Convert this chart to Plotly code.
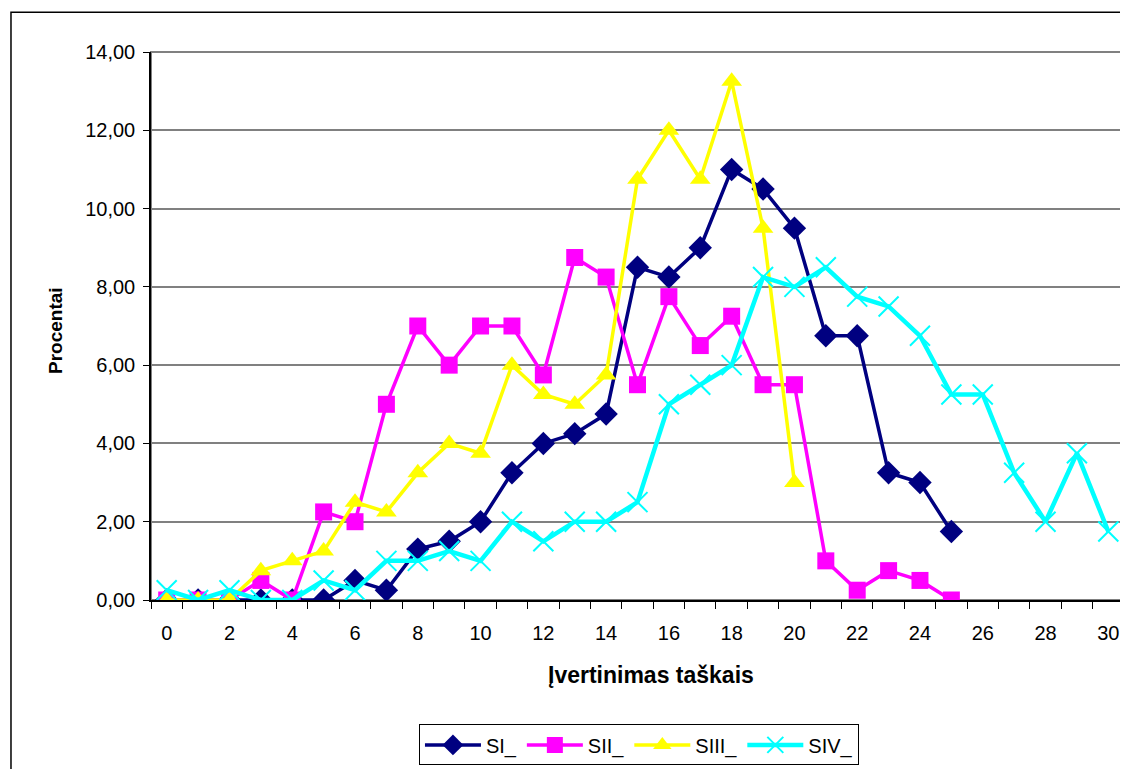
import plotly.graph_objects as go

x_points = list(range(0, 31))

si_values = [0, 0, 0, 0, 0, 0, 0.5, 0.25, 1.3, 1.5, 2.0, 3.25, 4.0, 4.25, 4.75,
             8.5, 8.25, 9.0, 11.0, 10.5, 9.5, 6.75, 6.75, 3.25, 3.0, 1.75]
sii_values = [0, 0, 0, 0.5, 0, 2.25, 2.0, 5.0, 7.0, 6.0, 7.0, 7.0, 5.75, 8.75, 8.25,
              5.5, 7.75, 6.5, 7.25, 5.5, 5.5, 1.0, 0.25, 0.75, 0.5, 0]
siii_values = [0, 0, 0, 0.75, 1.0, 1.25, 2.5, 2.25, 3.25, 4.0, 3.75, 6.0, 5.25, 5.0, 5.75,
               10.75, 12.0, 10.75, 13.25, 9.5, 3.0]
siv_values = [0.25, 0, 0.25, 0, 0, 0.5, 0.25, 1.0, 1.0, 1.25, 1.0, 2.0, 1.5, 2.0, 2.0,
              2.5, 5.0, 5.5, 6.0, 8.25, 8.0, 8.5, 7.75, 7.5, 6.75, 5.25, 5.25, 3.25, 2.0, 3.75, 1.75]

series_names = ["SI_", "SII_", "SIII_", "SIV_"]
series_colors = ["#000080", "#FF00FF", "#FFFF00", "#00FFFF"]
series_symbols = ["diamond", "square", "triangle-up", "x-thin"]
series_sizes = [18, 17, 18, 20]
series_widths = [3.5, 3.5, 3.5, 4.5]
series_values = [si_values, sii_values, siii_values, siv_values]

x_ticks = list(range(0, 31, 2))
y_ticks = list(range(0, 15, 2))

fig = go.Figure()
for name, color, sym, size, lw, vals in zip(series_names, series_colors, series_symbols,
                                            series_sizes, series_widths, series_values):
    marker = dict(symbol=sym, size=size, color=color)
    if sym == "x-thin":
        marker["line"] = dict(color=color, width=2)
    fig.add_trace(go.Scatter(
        x=x_points[:len(vals)], y=vals, name=name, mode="lines+markers",
        line=dict(color=color, width=lw), marker=marker,
    ))

font_family = "Liberation Sans, Arial, sans-serif"

fig.update_layout(
    width=1120, height=761,
    margin=dict(l=143, r=4, t=44, b=167),
    paper_bgcolor="white", plot_bgcolor="white",
    separators=",.",
    font=dict(family=font_family, size=20, color="black"),
    showlegend=True,
    legend=dict(
        orientation="h", x=0.5015, xanchor="center", y=-0.227, yanchor="top",
        bordercolor="#000000", borderwidth=1, bgcolor="white",
        font=dict(size=20, family=font_family), itemwidth=56,
        tracegroupgap=0,
    ),
    xaxis=dict(
        range=[-0.5, 30.5], tickvals=x_ticks, ticktext=[str(v) for v in x_ticks],
        ticks="", showgrid=False, zeroline=False,
        showline=True, linecolor="black", linewidth=1.5, mirror=False,
        tickfont=dict(size=20), ticklabelstandoff=14,
        minor=dict(tick0=0.5, dtick=1, ticks="outside", ticklen=7,
                   tickcolor="black", tickwidth=1, showgrid=False),
    ),
    yaxis=dict(
        range=[0, 14], tickvals=y_ticks, tickformat=".2f",
        ticks="outside", ticklen=6, tickcolor="black",
        showgrid=True, gridcolor="#808080", gridwidth=2, zeroline=False,
        showline=True, linecolor="black", linewidth=1.5,
        tickfont=dict(size=20), ticklabelstandoff=4,
    ),
    shapes=[
        dict(type="rect", xref="paper", yref="paper", x0=0, x1=1, y0=0, y1=1,
             line=dict(color="#808080", width=2), fillcolor="rgba(0,0,0,0)", layer="below"),
        dict(type="rect", xref="paper", yref="paper", x0=-0.1439, x1=1.05, y0=-0.45, y1=1.0727,
             line=dict(color="black", width=1.5), fillcolor="rgba(0,0,0,0)"),
    ],
    annotations=[
        dict(text="<b>Įvertinimas taškais</b>", xref="paper", yref="paper",
             x=0.514, y=-0.136, xanchor="center", yanchor="middle", showarrow=False,
             font=dict(size=23, family=font_family)),
        dict(text="<b>Procentai</b>", xref="paper", yref="paper",
             x=-0.0987, y=0.4927, xanchor="center", yanchor="middle", showarrow=False,
             textangle=-90, font=dict(size=19, family=font_family)),
    ],
)

fig.write_html("out.html")
